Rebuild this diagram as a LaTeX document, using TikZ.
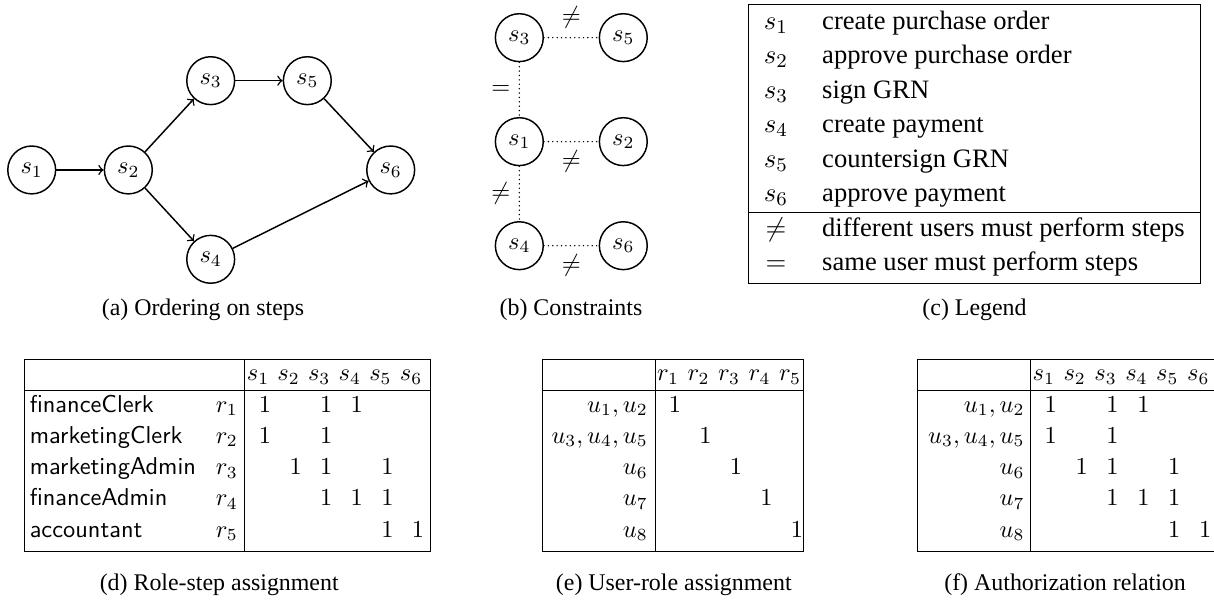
\documentclass[tikz,border=0pt]{standalone}
\usepackage[no-math]{fontspec}
\setmainfont{Liberation Serif}
\usepackage{tikz}
\tikzset{
  stepnode/.style={circle, draw, semithick, minimum size=0.69cm, inner sep=0pt},
  orderarrow/.style={->, semithick},
  constrline/.style={line width=0.65pt, line cap=round, dash pattern=on 0pt off 1.8pt},
  caplabel/.style={font=\fontsize{9.8}{12}\selectfont, anchor=base, inner sep=0pt},
  legsym/.style={font=\fontsize{10.9}{13}\selectfont, anchor=base, inner sep=0pt},
  legtext/.style={font=\fontsize{10.9}{13}\selectfont, anchor=base west, inner sep=0pt},
  rolename/.style={font=\sffamily, anchor=base west, inner sep=0pt},
  rowlabel/.style={anchor=base east, inner sep=0pt},
  cellone/.style={anchor=base, inner sep=0pt},
}

\begin{document}
\begin{tikzpicture}[x=1cm,y=1cm]
  \useasboundingbox (0,0) rectangle (17.5,8.822);

  % (a) Ordering on steps
  \node[stepnode] (ord_s1) at (0.457, 6.372) {$s_1$};
  \node[stepnode] (ord_s2) at (1.850, 6.372) {$s_2$};
  \node[stepnode] (ord_s3) at (3.037, 7.659) {$s_3$};
  \node[stepnode] (ord_s5) at (4.430, 7.659) {$s_5$};
  \node[stepnode] (ord_s6) at (5.632, 6.372) {$s_6$};
  \node[stepnode] (ord_s4) at (3.037, 5.084) {$s_4$};
  \draw[orderarrow] (ord_s1) -- (ord_s2);
  \draw[orderarrow] (ord_s2) -- (ord_s3);
  \draw[orderarrow] (ord_s2) -- (ord_s4);
  \draw[orderarrow] (ord_s3) -- (ord_s5);
  \draw[orderarrow] (ord_s5) -- (ord_s6);
  \draw[orderarrow] (ord_s4) -- (ord_s6);
  \node[caplabel] (cap_a) at (2.926, 4.267) {(a) Ordering on steps};

  % (b) Constraints
  \node[stepnode] (con_s3) at (7.486, 8.279) {$s_3$};
  \node[stepnode] (con_s5) at (8.985, 8.279) {$s_5$};
  \node[stepnode] (con_s1) at (7.486, 6.780) {$s_1$};
  \node[stepnode] (con_s2) at (8.985, 6.780) {$s_2$};
  \node[stepnode] (con_s4) at (7.486, 5.280) {$s_4$};
  \node[stepnode] (con_s6) at (8.985, 5.280) {$s_6$};
  \draw[constrline] (con_s3) -- node[above] {$\neq$} (con_s5);
  \draw[constrline] (con_s1) -- node[below] {$\neq$} (con_s2);
  \draw[constrline] (con_s4) -- node[below] {$\neq$} (con_s6);
  \draw[constrline] (con_s3) -- node[left] {$=$} (con_s1);
  \draw[constrline] (con_s1) -- node[left] {$\neq$} (con_s4);
  \node[caplabel] (cap_b) at (8.231, 4.267) {(b) Constraints};

  % (c) Legend
  \draw (10.787, 4.738) rectangle (17.309, 8.750);
  \draw (10.787, 5.756) -- (17.309, 5.756);
  \node[legsym] (leg_s1) at (11.186, 8.400) {$s_1$};
  \node[legsym] (leg_s2) at (11.186, 7.903) {$s_2$};
  \node[legsym] (leg_s3) at (11.186, 7.406) {$s_3$};
  \node[legsym] (leg_s4) at (11.186, 6.909) {$s_4$};
  \node[legsym] (leg_s5) at (11.186, 6.412) {$s_5$};
  \node[legsym] (leg_s6) at (11.186, 5.915) {$s_6$};
  \node[legsym] (leg_neq) at (11.186, 5.418) {$\neq$};
  \node[legsym] (leg_eq) at (11.186, 4.921) {$=$};
  \node[legtext] (leg_t1) at (11.845, 8.400) {create purchase order};
  \node[legtext] (leg_t2) at (11.845, 7.903) {approve purchase order};
  \node[legtext] (leg_t3) at (11.845, 7.406) {sign GRN};
  \node[legtext] (leg_t4) at (11.845, 6.909) {create payment};
  \node[legtext] (leg_t5) at (11.845, 6.412) {countersign GRN};
  \node[legtext] (leg_t6) at (11.845, 5.915) {approve payment};
  \node[legtext] (leg_t7) at (11.845, 5.418) {different users must perform steps};
  \node[legtext] (leg_t8) at (11.845, 4.921) {same user must perform steps};
  \node[caplabel] (cap_c) at (14.048, 4.267) {(c) Legend};

  % (d) Role-step assignment
  \draw (0.346, 0.879) rectangle (6.199, 3.633);
  \draw (0.346, 3.190) -- (6.199, 3.190);
  \draw (3.522, 0.879) -- (3.522, 3.633);
  \foreach \i in {1,...,6}
    \node[cellone] (rs_h\i) at ({3.720+(\i-1)*0.441}, 3.333) {$s_{\i}$};
  \node[rolename] (rs_n1) at (0.422, 2.882) {financeClerk};
  \node[rolename] (rs_n2) at (0.422, 2.432) {marketingClerk};
  \node[rolename] (rs_n3) at (0.422, 1.981) {marketingAdmin};
  \node[rolename] (rs_n4) at (0.422, 1.531) {financeAdmin};
  \node[rolename] (rs_n5) at (0.422, 1.080) {accountant};
  \foreach \r in {1,...,5}
    \node[rowlabel] (rs_r\r) at (3.435, {2.882-(\r-1)*0.4505}) {$r_{\r}$};
  \foreach \c/\r in {1/1,3/1,4/1,1/2,3/2,2/3,3/3,5/3,3/4,4/4,5/4,5/5,6/5}
    \node[cellone] (rs_\r_\c) at ({3.820+(\c-1)*0.441}, {2.882-(\r-1)*0.4505}) {$1$};
  \node[caplabel] (cap_d) at (3.160, 0.317) {(d) Role-step assignment};

  % (e) User-role assignment
  \draw (7.823, 0.879) rectangle (11.576, 3.633);
  \draw (7.823, 3.190) -- (11.576, 3.190);
  \draw (9.442, 0.879) -- (9.442, 3.633);
  \foreach \i in {1,...,5}
    \node[cellone] (ur_h\i) at ({9.630+(\i-1)*0.44}, 3.333) {$r_{\i}$};
  \node[rowlabel] (ur_u1) at (9.346, 2.882) {$u_1, u_2$};
  \node[rowlabel] (ur_u2) at (9.346, 2.432) {$u_3, u_4, u_5$};
  \node[rowlabel] (ur_u3) at (9.346, 1.981) {$u_6$};
  \node[rowlabel] (ur_u4) at (9.346, 1.531) {$u_7$};
  \node[rowlabel] (ur_u5) at (9.346, 1.080) {$u_8$};
  \foreach \r in {1,...,5}
    \node[cellone] (ur_\r) at ({9.730+(\r-1)*0.44}, {2.882-(\r-1)*0.4505}) {$1$};
  \node[caplabel] (cap_e) at (9.713, 0.317) {(e) User-role assignment};

  % (f) Authorization relation
  \draw (17.5, 3.633) -- (13.229, 3.633) -- (13.229, 0.879) -- (17.5, 0.879);
  \draw (13.229, 3.190) -- (17.5, 3.190);
  \draw (14.858, 0.879) -- (14.858, 3.633);
  \foreach \i in {1,...,6}
    \node[cellone] (au_h\i) at ({15.046+(\i-1)*0.4455}, 3.333) {$s_{\i}$};
  \node[rowlabel] (au_u1) at (14.776, 2.882) {$u_1, u_2$};
  \node[rowlabel] (au_u2) at (14.776, 2.432) {$u_3, u_4, u_5$};
  \node[rowlabel] (au_u3) at (14.776, 1.981) {$u_6$};
  \node[rowlabel] (au_u4) at (14.776, 1.531) {$u_7$};
  \node[rowlabel] (au_u5) at (14.776, 1.080) {$u_8$};
  \foreach \c/\r in {1/1,3/1,4/1,1/2,3/2,2/3,3/3,5/3,3/4,4/4,5/4,5/5,6/5}
    \node[cellone] (au_\r_\c) at ({15.146+(\c-1)*0.4455}, {2.882-(\r-1)*0.4505}) {$1$};
  \node[caplabel] (cap_f) at (15.353, 0.317) {(f) Authorization relation};
\end{tikzpicture}
\end{document}
